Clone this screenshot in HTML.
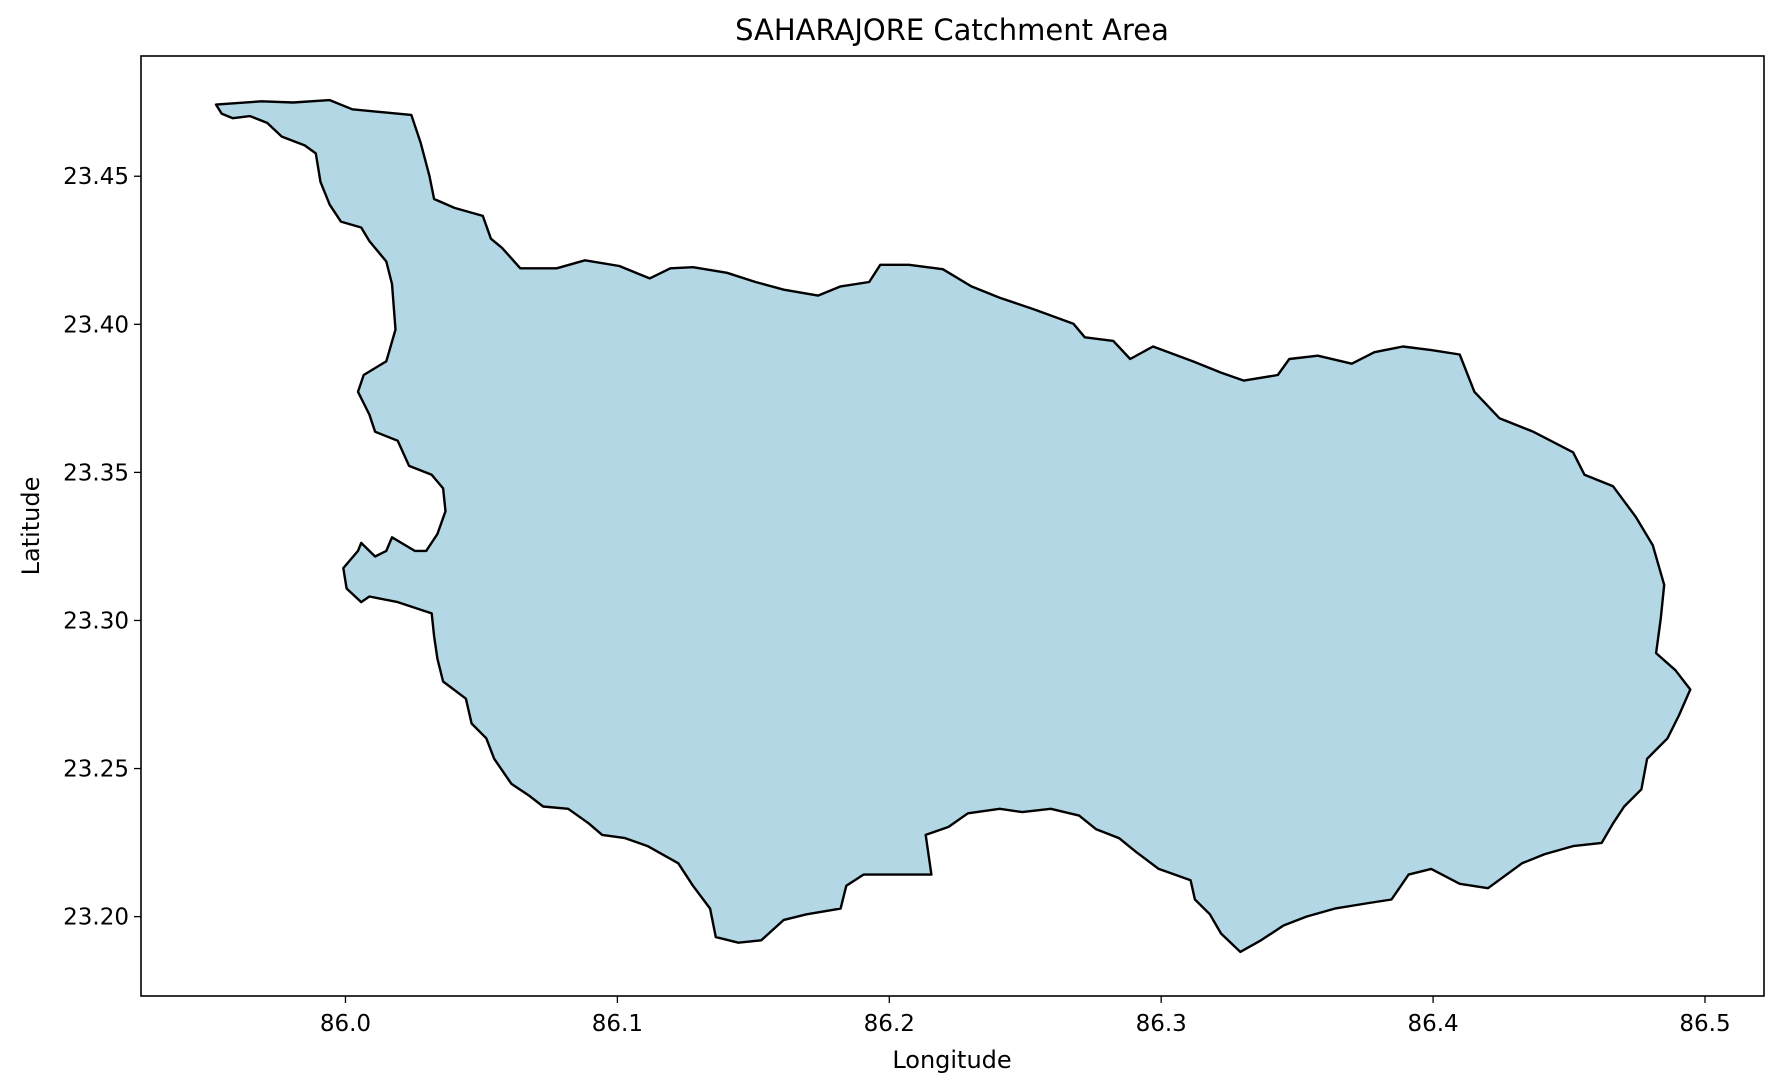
<!DOCTYPE html>
<html><head><meta charset="utf-8"><style>
body{margin:0;background:#fff;}
svg{display:block;font-family:"DejaVu Sans","Liberation Sans",sans-serif;}
</style></head><body>
<svg id="chart" width="1781" height="1090" viewBox="0 0 1781 1090">
<rect x="0" y="0" width="1781" height="1090" fill="#fff"/>
<text x="952" y="40" font-size="29" text-anchor="middle">SAHARAJORE Catchment Area</text>
<g id="plot"></g>
<rect x="141" y="56" width="1623" height="940" fill="none" stroke="#000" stroke-width="1.6"/>
<text x="952" y="1068" font-size="24" text-anchor="middle">Longitude</text>
<text x="0" y="0" font-size="24" text-anchor="middle" transform="translate(39,526) rotate(-90)">Latitude</text>
</svg>
<script>
const xTicks=[86.0,86.1,86.2,86.3,86.4,86.5];
const xTickLabels=["86.0","86.1","86.2","86.3","86.4","86.5"];
const yTicks=[23.20,23.25,23.30,23.35,23.40,23.45];
const yTickLabels=["23.20","23.25","23.30","23.35","23.40","23.45"];
const lons=[85.9524,85.9691,85.9808,85.9942,86.0025,86.0150,86.0242,86.0276,86.0309,86.0326,86.0401,86.0505,86.0535,86.0576,86.0643,86.0777,86.0881,86.1007,86.1119,86.1195,86.1278,86.1403,86.1508,86.1612,86.1738,86.1821,86.1926,86.1967,86.2072,86.2197,86.2302,86.2406,86.2531,86.2677,86.2719,86.2824,86.2886,86.2970,86.3116,86.3220,86.3304,86.3429,86.3471,86.3576,86.3701,86.3784,86.3889,86.3993,86.4098,86.4152,86.4244,86.4369,86.4515,86.4557,86.4662,86.4745,86.4808,86.4850,86.4837,86.4820,86.4891,86.4946,86.4904,86.4862,86.4787,86.4766,86.4703,86.4662,86.4620,86.4515,86.4411,86.4327,86.4202,86.4098,86.3993,86.3910,86.3847,86.3764,86.3638,86.3534,86.3450,86.3367,86.3291,86.3220,86.3179,86.3124,86.3108,86.2991,86.2907,86.2845,86.2761,86.2698,86.2594,86.2489,86.2406,86.2289,86.2218,86.2134,86.2155,86.2072,86.1905,86.1842,86.1821,86.1696,86.1612,86.1529,86.1445,86.1362,86.1341,86.1278,86.1224,86.1111,86.1028,86.0944,86.0894,86.0819,86.0727,86.0673,86.0610,86.0547,86.0518,86.0464,86.0443,86.0359,86.0338,86.0326,86.0317,86.0192,86.0088,86.0058,86.0004,85.9992,86.0046,86.0058,86.0109,86.0150,86.0171,86.0255,86.0297,86.0338,86.0368,86.0359,86.0317,86.0234,86.0192,86.0109,86.0088,86.0046,86.0067,86.0150,86.0184,86.0171,86.0150,86.0088,86.0058,85.9983,85.9942,85.9908,85.9891,85.9850,85.9766,85.9712,85.9649,85.9586,85.9545];
const lats=[23.4742,23.4753,23.4749,23.4757,23.4726,23.4715,23.4707,23.4615,23.4500,23.4423,23.4393,23.4366,23.4289,23.4258,23.4189,23.4189,23.4216,23.4197,23.4155,23.4189,23.4193,23.4174,23.4143,23.4117,23.4097,23.4128,23.4143,23.4201,23.4201,23.4186,23.4128,23.4090,23.4051,23.4002,23.3956,23.3944,23.3883,23.3925,23.3875,23.3837,23.3810,23.3829,23.3883,23.3894,23.3867,23.3906,23.3925,23.3913,23.3898,23.3772,23.3683,23.3637,23.3568,23.3492,23.3453,23.3350,23.3254,23.3120,23.3005,23.2890,23.2832,23.2767,23.2679,23.2602,23.2533,23.2430,23.2372,23.2315,23.2249,23.2238,23.2211,23.2180,23.2096,23.2111,23.2161,23.2142,23.2058,23.2046,23.2027,23.2000,23.1970,23.1920,23.1881,23.1943,23.2008,23.2058,23.2123,23.2161,23.2219,23.2265,23.2295,23.2341,23.2364,23.2353,23.2364,23.2349,23.2303,23.2276,23.2142,23.2142,23.2142,23.2104,23.2027,23.2008,23.1989,23.1920,23.1912,23.1931,23.2027,23.2104,23.2180,23.2238,23.2265,23.2276,23.2315,23.2364,23.2372,23.2410,23.2449,23.2533,23.2602,23.2652,23.2736,23.2794,23.2871,23.2947,23.3024,23.3062,23.3081,23.3062,23.3108,23.3177,23.3235,23.3262,23.3216,23.3235,23.3281,23.3235,23.3235,23.3292,23.3369,23.3446,23.3492,23.3522,23.3607,23.3637,23.3695,23.3772,23.3829,23.3875,23.3982,23.4136,23.4212,23.4281,23.4327,23.4347,23.4404,23.4481,23.4577,23.4604,23.4634,23.4680,23.4703,23.4696,23.4711];

const X0=141,X1=1764,Y0=56,Y1=996;
const lonMin=85.9248,lonMax=86.5217,latMin=23.1732,latMax=23.4906;
function xs(v){return X0+(v-lonMin)/(lonMax-lonMin)*(X1-X0);}
function ys(v){return Y1-(v-latMin)/(latMax-latMin)*(Y1-Y0);}
const NS='http://www.w3.org/2000/svg';
const plot=document.getElementById('plot');

let d='';
for(let i=0;i<lons.length;i++){d+=(i?'L':'M')+xs(lons[i]).toFixed(1)+','+ys(lats[i]).toFixed(1);}
d+='Z';
const poly=document.createElementNS(NS,'path');
poly.setAttribute('d',d);
poly.setAttribute('fill','#b3d7e5');
poly.setAttribute('stroke','#000');
poly.setAttribute('stroke-width','2.4');
poly.setAttribute('stroke-linejoin','round');


plot.appendChild(poly);

xTicks.forEach((t,i)=>{
  const x=xs(t);
  const ln=document.createElementNS(NS,'line');
  ln.setAttribute('x1',x);ln.setAttribute('x2',x);ln.setAttribute('y1',Y1);ln.setAttribute('y2',Y1+7);
  ln.setAttribute('stroke','#000');ln.setAttribute('stroke-width','1.3');
  
  
  plot.appendChild(ln);
  const tx=document.createElementNS(NS,'text');
  tx.setAttribute('x',x);tx.setAttribute('y',Y1+35);tx.setAttribute('font-size','23');tx.setAttribute('text-anchor','middle');
  tx.textContent=xTickLabels[i];
  
  
  plot.appendChild(tx);
});
yTicks.forEach((t,i)=>{
  const y=ys(t);
  const ln=document.createElementNS(NS,'line');
  ln.setAttribute('x1',X0-7);ln.setAttribute('x2',X0);ln.setAttribute('y1',y);ln.setAttribute('y2',y);
  ln.setAttribute('stroke','#000');ln.setAttribute('stroke-width','1.3');
  
  
  plot.appendChild(ln);
  const tx=document.createElementNS(NS,'text');
  tx.setAttribute('x',X0-12);tx.setAttribute('y',y+8);tx.setAttribute('font-size','23');tx.setAttribute('text-anchor','end');
  tx.textContent=yTickLabels[i];
  
  
  plot.appendChild(tx);
});
</script>
</body></html>
